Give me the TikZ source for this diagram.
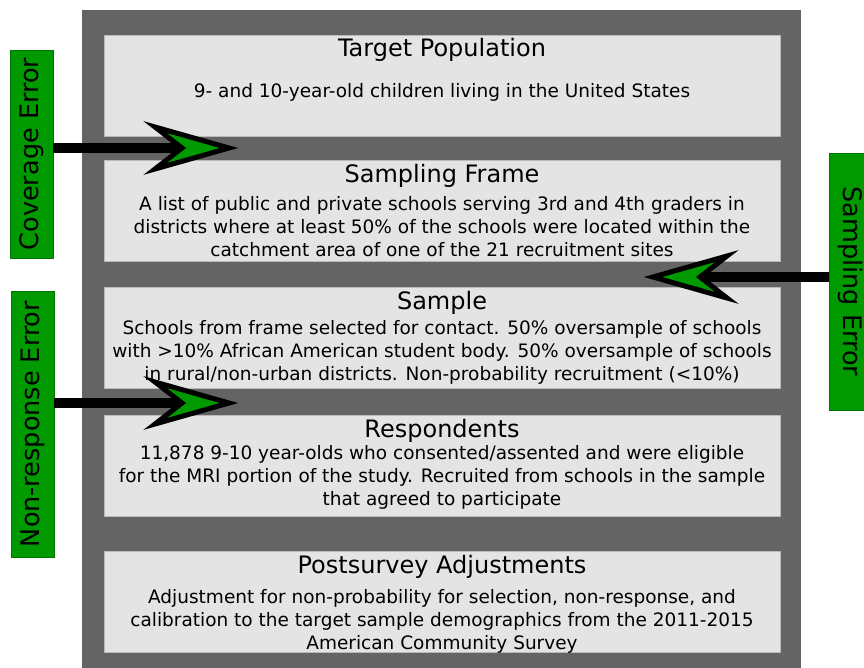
\documentclass[tikz,border=0pt]{standalone}
\usepackage{fontspec}
\setmainfont{DejaVu Sans}
\usetikzlibrary{positioning}
\definecolor{panelgray}{HTML}{646464}
\definecolor{stagegray}{HTML}{E4E4E4}
\definecolor{errgreen}{HTML}{009A00}

\begin{document}
\begin{tikzpicture}[x=1pt, y=-1pt,
    stage/.style={draw=gray!55, fill=stagegray, minimum width=676pt, minimum height=101pt, inner sep=0pt},
    title/.style={font=\fontsize{24}{28}\selectfont, inner sep=0pt, anchor=base},
    body/.style={font=\fontsize{18.5}{23}\selectfont, align=center, inner sep=0pt, anchor=base},
    error/.style={draw=green!45!black, fill=errgreen, minimum width=43pt, inner sep=0pt, font=\fontsize{25.5}{28}\selectfont},
    shaft/.style={line width=10pt, black},
    head/.style={draw=black, line width=5pt, fill=errgreen, miter limit=12}]
  \useasboundingbox (0,0) rectangle (864,667);

  % Panel behind the stages
  \fill[panelgray] (82,10) rectangle (801,672);

  % Stages
  \node[stage] (pop) at (442,85.5) {};
  \node[stage, below=24pt of pop] (frame) {};
  \node[stage, below=25.5pt of frame] (sample) {};
  \node[stage, below=26.5pt of sample] (resp) {};
  \node[stage, below=35pt of resp] (adjust) {};

  % Stage texts (base of a body is its last line)
  \node[title] at ([yshift=-22pt]pop.north) {Target Population};
  \node[body] at ([yshift=-63pt]pop.north) {9- and 10-year-old children living in the United States};

  \node[title] at ([yshift=-22pt]frame.north) {Sampling Frame};
  \node[body] at ([yshift=-96pt]frame.north) {A list of public and private schools serving 3rd and 4th graders in\\
    districts where at least 50\% of the schools were located within the\\
    catchment area of one of the 21 recruitment sites};

  \node[title] at ([yshift=-22pt]sample.north) {Sample};
  \node[body] at ([yshift=-93pt]sample.north) {Schools from frame selected for contact. 50\% oversample of schools\\
    with >10\% African American student body. 50\% oversample of schools\\
    in rural/non-urban districts. Non-probability recruitment (<10\%)};

  \node[title] at ([yshift=-22pt]resp.north) {Respondents};
  \node[body] at ([yshift=-90pt]resp.north) {11,878 9-10 year-olds who consented/assented and were eligible\\
    for the MRI portion of the study. Recruited from schools in the sample\\
    that agreed to participate};

  \node[title] at ([yshift=-22pt]adjust.north) {Postsurvey Adjustments};
  \node[body] at ([yshift=-98pt]adjust.north) {Adjustment for non-probability for selection, non-response, and\\
    calibration to the target sample demographics from the 2011-2015\\
    American Community Survey};

  % Error sources
  \node[error, minimum height=208pt] (cov) at (31.5,154) {\rotatebox{90}{Coverage Error}};
  \node[error, minimum height=266pt] (nonresp) at (32.5,424) {\rotatebox{90}{Non-response Error}};
  \node[error, minimum height=257pt] (samp) at (850.5,281.5) {\rotatebox{-90}{Sampling Error}};

  % Arrows
  \coordinate (covtip) at (229,148);
  \coordinate (nonresptip) at (229,403);
  \coordinate (samptip) at (653,277);
  \draw[shaft] (cov.east |- covtip) -- ([xshift=-50pt]covtip);
  \draw[head] (covtip) -- ++(-74,-21) -- ++(27,21) -- ++(-27,21) -- cycle;
  \draw[shaft] (nonresp.east |- nonresptip) -- ([xshift=-50pt]nonresptip);
  \draw[head] (nonresptip) -- ++(-74,-21) -- ++(27,21) -- ++(-27,21) -- cycle;
  \draw[shaft] (samp.west |- samptip) -- ([xshift=50pt]samptip);
  \draw[head] (samptip) -- ++(74,-21) -- ++(-27,21) -- ++(27,21) -- cycle;
\end{tikzpicture}
\end{document}
